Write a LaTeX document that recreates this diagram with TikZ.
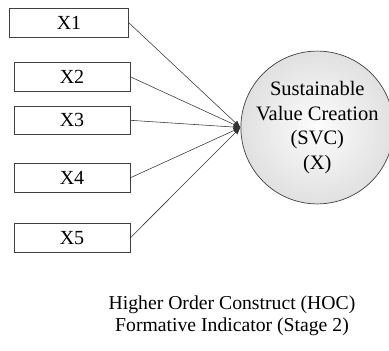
\documentclass[tikz,border=0pt]{standalone}
\usepackage{fontspec}
\setmainfont{Liberation Serif}
\usetikzlibrary{arrows.meta}
\begin{document}
\begin{tikzpicture}[x=1pt,y=-1pt,
  ind/.style={draw=black!75, line width=0.7pt, fill=white, minimum height=28.5pt,
    inner sep=0pt, font=\fontsize{20}{23}\selectfont},
  construct/.style={circle, draw=black!75, line width=0.7pt, minimum size=141pt,
    inner sep=0pt, inner color=white!99!black, outer color=white!88!black,
    align=center, font=\fontsize{20.5}{24.5}\selectfont},
  link/.style={draw=black!80, line width=0.55pt, -{Latex[length=7pt,width=5.5pt]}},
  caption/.style={font=\fontsize{19.7}{22}\selectfont, align=center}]
\useasboundingbox (0,0) rectangle (389,351);

% formative indicators
\node[ind, minimum width=119pt] (x1) at (69,22.8) {X1};
\node[ind, minimum width=116pt] (x2) at (72,76.8) {X2};
\node[ind, minimum width=116pt] (x3) at (72,120.3) {X3};
\node[ind, minimum width=116pt] (x4) at (72,177.8) {X4};
\node[ind, minimum width=116pt] (x5) at (72,237.8) {X5};

% higher order construct
\node[construct] (svc) at (317.3,127.5) {Sustainable\\Value Creation\\(SVC)\\(X)};

% indicator paths
\foreach \i in {x1,x2,x3,x4,x5}
  \draw[link] (\i.east) -- (svc.west);

% caption
\node[caption] (cap) at (232,316) {Higher Order Construct (HOC)\\Formative Indicator (Stage 2)};
\end{tikzpicture}
\end{document}
